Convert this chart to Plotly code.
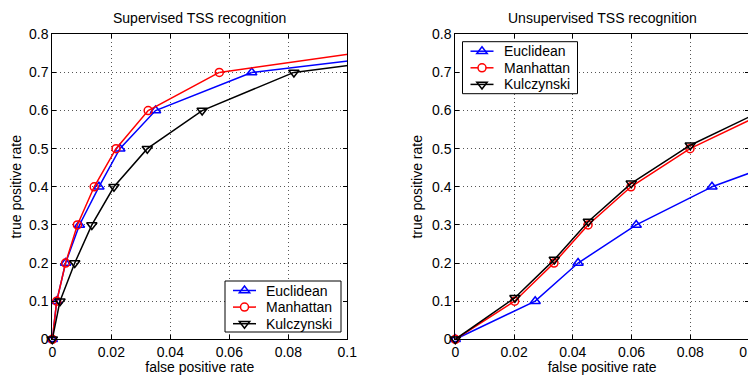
import plotly.graph_objects as go

# ---------------- data ----------------
series_names = ["Euclidean", "Manhattan", "Kulczynski"]

sup_fpr_euclid = [0, 0.0015, 0.0045, 0.0092, 0.0158, 0.0229, 0.035, 0.0676, 0.176]
sup_tpr_euclid = [0, 0.1, 0.2, 0.3, 0.4, 0.5, 0.6, 0.7, 0.8]
sup_fpr_manh = [0, 0.0015, 0.0045, 0.0085, 0.0142, 0.0216, 0.0325, 0.0566, 0.148]
sup_tpr_manh = [0, 0.1, 0.2, 0.3, 0.4, 0.5, 0.6, 0.7, 0.8]
sup_fpr_kulc = [0, 0.0026, 0.0076, 0.0134, 0.0209, 0.0322, 0.0508, 0.0819, 0.184]
sup_tpr_kulc = [0, 0.1, 0.2, 0.3, 0.4, 0.5, 0.6, 0.7, 0.8]

unsup_fpr_euclid = [0, 0.0272, 0.0418, 0.0616, 0.0874, 0.123]
unsup_tpr_euclid = [0, 0.1, 0.2, 0.3, 0.4, 0.5]
unsup_fpr_manh = [0, 0.0202, 0.0336, 0.0452, 0.0598, 0.0799, 0.107]
unsup_tpr_manh = [0, 0.1, 0.2, 0.3, 0.4, 0.5, 0.6]
unsup_fpr_kulc = [0, 0.0203, 0.0337, 0.0453, 0.0599, 0.0800, 0.107]
unsup_tpr_kulc = [0, 0.109, 0.209, 0.309, 0.409, 0.509, 0.609]

x_tickvals = [0, 0.02, 0.04, 0.06, 0.08, 0.1]
x_ticktext = ["0", "0.02", "0.04", "0.06", "0.08", "0.1"]
y_tickvals = [0, 0.1, 0.2, 0.3, 0.4, 0.5, 0.6, 0.7, 0.8]
y_ticktext = ["0", "0.1", "0.2", "0.3", "0.4", "0.5", "0.6", "0.7", "0.8"]

titles = ["Supervised TSS recognition", "Unsupervised TSS recognition"]
x_label = "false positive rate"
y_label = "true positive rate"

X_MAX = 0.1
Y_MAX = 0.8

# ---------------- geometry ----------------
# the page body has an 8px margin, so the figure starts at (8, 8) on screen
OFF = 8
W, H = 756 - OFF, 375 - OFF


def px(xs):
    return (xs - OFF) / W


def py(ys):
    return 1 - (ys - OFF) / H


FONT = "Liberation Sans, Arial, Helvetica, sans-serif"
colors = ["#0000ff", "#ff0000", "#000000"]
symbols = ["triangle-up-open", "circle-open", "triangle-down-open"]
msizes = [9, 8, 9]

fig = go.Figure()

panels = [
    ("x", "y",
     [(sup_fpr_euclid, sup_tpr_euclid), (sup_fpr_manh, sup_tpr_manh), (sup_fpr_kulc, sup_tpr_kulc)]),
    ("x2", "y2",
     [(unsup_fpr_euclid, unsup_tpr_euclid), (unsup_fpr_manh, unsup_tpr_manh), (unsup_fpr_kulc, unsup_tpr_kulc)]),
]

for xa, ya, data in panels:
    for i, (xs, ys) in enumerate(data):
        inside = [k for k, v in enumerate(xs) if v <= X_MAX and ys[k] <= Y_MAX]
        xin = [xs[k] for k in inside]
        yin = [ys[k] for k in inside]
        last = inside[-1]
        # continuation of the curve beyond the axes (clipped)
        if last < len(xs) - 1:
            fig.add_trace(go.Scatter(
                x=xs[last:], y=ys[last:], mode="lines", xaxis=xa, yaxis=ya,
                line=dict(color=colors[i], width=1.5), showlegend=False,
                hoverinfo="skip"))
        fig.add_trace(go.Scatter(
            x=xin, y=yin, mode="lines+markers", name=series_names[i],
            xaxis=xa, yaxis=ya, cliponaxis=False, showlegend=False,
            line=dict(color=colors[i], width=1.5),
            marker=dict(symbol=symbols[i], size=msizes[i], color=colors[i],
                        line=dict(color=colors[i], width=1.5))))

axis_common = dict(
    showline=True, linecolor="black", linewidth=1, mirror="allticks",
    ticks="inside", ticklen=4, tickcolor="black", tickwidth=1,
    showgrid=True, gridcolor="#555555", gridwidth=1, griddash="1px,3px",
    zeroline=False, tickfont=dict(family=FONT, size=14, color="black"),
    fixedrange=True, automargin=False, ticklabeloverflow="allow",
)

xdoms = [[px(52.3), px(347.3)], [px(455.3), px(749.0)]]
ydom = [py(339.3), py(34.3)]

layout = dict(
    width=W, height=H,
    margin=dict(l=0, r=0, t=0, b=0, autoexpand=False),
    paper_bgcolor="white", plot_bgcolor="white",
    font=dict(family=FONT, size=14, color="black"),
    showlegend=False,
)
for j, (xa, ya) in enumerate([("xaxis", "yaxis"), ("xaxis2", "yaxis2")]):
    sx = "" if j == 0 else "2"
    layout[xa] = dict(axis_common, domain=xdoms[j], range=[0, X_MAX],
                      tickvals=x_tickvals, ticktext=x_ticktext,
                      anchor="y" + sx, ticklabelstandoff=0,
                      title=dict(text=x_label, standoff=0,
                                 font=dict(family=FONT, size=14)))
    layout[ya] = dict(axis_common, domain=ydom, range=[0, Y_MAX],
                      tickvals=y_tickvals, ticktext=y_ticktext,
                      anchor="x" + sx, ticklabelstandoff=0,
                      title=dict(text=y_label, standoff=6,
                                 font=dict(family=FONT, size=14)))

# ---------------- legends (drawn as shapes + text) ----------------
shapes = []
annotations = []


def add_legend(left, top, width, height):
    shapes.append(dict(type="rect", xref="paper", yref="paper",
                       x0=px(left), x1=px(left + width),
                       y0=py(top + height), y1=py(top),
                       line=dict(color="black", width=1),
                       fillcolor="white", layer="above"))
    for i, name in enumerate(series_names):
        cy = top + 9.5 + i * 16.6
        shapes.append(dict(type="line", xref="paper", yref="paper",
                           x0=px(left + 8), x1=px(left + 31),
                           y0=py(cy), y1=py(cy),
                           line=dict(color=colors[i], width=1.5), layer="above"))
        cx = left + 19.5
        if symbols[i] == "circle-open":
            r = 4
            shapes.append(dict(type="circle", xref="paper", yref="paper",
                               x0=px(cx - r), x1=px(cx + r),
                               y0=py(cy + r), y1=py(cy - r),
                               line=dict(color=colors[i], width=1.5),
                               fillcolor="white", layer="above"))
        else:
            rt, r2, r = 5.2, 2.25, 4.5
            if symbols[i] == "triangle-up-open":
                pts = [(cx - rt, cy + r2), (cx + rt, cy + r2), (cx, cy - r)]
            else:
                pts = [(cx - rt, cy - r2), (cx + rt, cy - r2), (cx, cy + r)]
            path = "M " + " L ".join(f"{px(a):.5f},{py(b):.5f}" for a, b in pts) + " Z"
            shapes.append(dict(type="path", xref="paper", yref="paper", path=path,
                               line=dict(color=colors[i], width=1.5),
                               fillcolor="rgba(0,0,0,0)", layer="above"))
        annotations.append(dict(
            text=name, x=px(left + 39), y=py(cy), xref="paper", yref="paper",
            xanchor="left", yanchor="middle", showarrow=False,
            font=dict(family=FONT, size=14, color="black")))


add_legend(225, 281, 116, 51)
add_legend(462.5, 41.7, 115, 52)

centers = [px((52.3 + 347.3) / 2), px((455.3 + 749) / 2)]
for j, t in enumerate(titles):
    annotations.append(dict(
        text=t, x=centers[j], y=py(18), xref="paper", yref="paper",
        xanchor="center", yanchor="middle", showarrow=False,
        font=dict(family=FONT, size=14, color="black")))

layout["shapes"] = shapes
layout["annotations"] = annotations

fig.update_layout(**layout)
fig.write_html("out.html")
